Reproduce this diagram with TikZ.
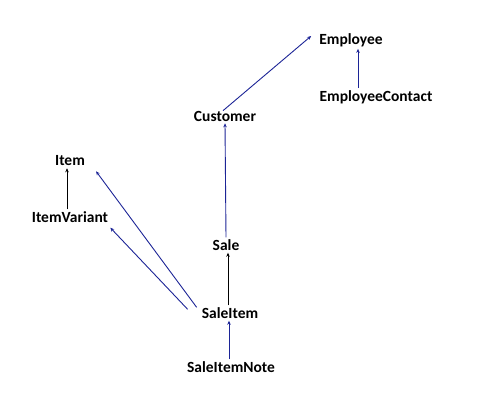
\documentclass[tikz,border=0pt]{standalone}
\usepackage{fontspec}
\setmainfont{Carlito}
\usetikzlibrary{arrows.meta}
\definecolor{linkblue}{RGB}{28,36,150}
\begin{document}
\begin{tikzpicture}[x=1pt, y=-1pt, font=\fontsize{15.5}{18}\selectfont\bfseries, inner sep=2pt,
	link/.style={draw=linkblue, line width=0.9pt, -{Stealth[length=4pt,width=3.5pt]}},
	plain/.style={draw=black, line width=0.9pt, -{Stealth[length=4pt,width=3.5pt]}}]
	\useasboundingbox (0,0) rectangle (490,407);
	\node (emp) at (351, 40) {Employee};
	\node (empc) at (376, 97) {EmployeeContact};
	\node (cust) at (225, 116) {Customer};
	\node (item) at (70, 161) {Item};
	\node (itemv) at (70, 217) {ItemVariant};
	\node (sale) at (226, 245) {Sale};
	\node (si) at (230, 313) {SaleItem};
	\node (sin) at (231, 367) {SaleItemNote};
	
	\draw[link] ([xshift=-2pt, yshift=-2pt]cust.north) to ([xshift=-6pt, yshift=4pt]emp.west);
	\draw[link] ([xshift=-18pt]empc.north) to ([xshift=7pt]emp.south);
	\draw[plain] ([xshift=-3pt]itemv.north) to ([xshift=-3pt]item.south);
	\draw[link] ([xshift=-3pt, yshift=-2pt]si.north west) to ([xshift=9pt, yshift=-3pt]item.south east);
	\draw[link] ([xshift=-12pt, yshift=-4pt]si.north west) to ([xshift=0pt, yshift=-3pt]itemv.south east);
	\draw[link] (sale.north) to (cust.south);
	\draw[plain] ([xshift=-2pt]si.north) to ([xshift=2pt]sale.south);
	\draw[link] ([xshift=-2pt]sin.north) to ([xshift=-1pt]si.south);
\end{tikzpicture}
\end{document}
